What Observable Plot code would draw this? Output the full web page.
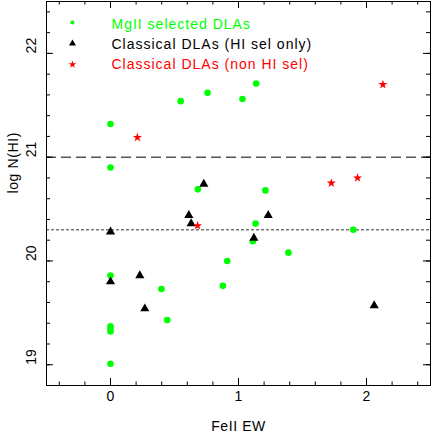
<!DOCTYPE html>
<html><head><meta charset="utf-8">
<script src="https://cdn.jsdelivr.net/npm/d3@7"></script>
<script src="https://cdn.jsdelivr.net/npm/@observablehq/plot@0.6"></script>
<style>body{margin:0;background:#fff} svg{display:block}</style>
</head><body><div id="chart"></div>
<script>
// MgII selected DLAs (green dots)
const mgiiX = [0, 0, 0.548, 0.758, 0.682, 1.031, 1.138, 1.21, 1.133, 1.112, 1.897, 1.39, 0.912, 0.878, 0, 0.398, 0.443, 0, 0, 0, 0];
const mgiiY = [21.32, 20.90, 21.54, 21.62, 20.69, 21.56, 21.71, 20.68, 20.36, 20.19, 20.30, 20.08, 20.00, 19.76, 19.86, 19.73, 19.43, 19.37, 19.345, 19.32, 19.01];
// Classical DLAs (HI sel only) (black triangles)
const hiX = [0.729, 0.612, 0.63, 1.232, 1.12, 0, 0, 0.229, 0.268, 2.06];
const hiY = [20.74, 20.44, 20.36, 20.44, 20.22, 20.28, 19.80, 19.86, 19.54, 19.57];
// Classical DLAs (non HI sel) (red stars)
const nonX = [0.21, 0.68, 1.725, 1.93, 2.128];
const nonY = [21.19, 20.34, 20.75, 20.80, 21.70];

const refLines = [21, 20.3];
const xTickLabels = [0, 1, 2];
const yTickLabels = [19, 20, 21, 22];
const xMinor = d3.range(-4, 25, 2).map(v => v / 10);
const yMinor = d3.range(188, 226, 2).map(v => v / 10);

const legendLabels = ["MgII selected DLAs", "Classical DLAs (HI sel only)", "Classical DLAs (non HI sel)"];
const legendColors = ["#00ff00", "#000000", "#ff0000"];
const legendSymbols = ["circle", "triangle", "star"];
const legendR = [2, 2.6, 2.4];

const xLabel = "FeII EW";
const yLabel = "log N(HI)";

const W = 432, H = 436, mL = 46, mR = 2, mT = 1, mB = 51;
const plotW = W - mL - mR, plotH = H - mT - mB;
const font = "'Liberation Sans', Arial, Helvetica, sans-serif";

const mgii = mgiiX.map((x, i) => ({x, y: mgiiY[i]}));
const hi = hiX.map((x, i) => ({x, y: hiY[i]}));
const non = nonX.map((x, i) => ({x, y: nonY[i]}));

const legendMarks = [];
legendLabels.forEach((lab, i) => {
  legendMarks.push(Plot.dot([lab], {frameAnchor: "top-left", dx: 26, dy: 21 + i * 21, symbol: legendSymbols[i], r: legendR[i], fill: legendColors[i]}));
  legendMarks.push(Plot.text([lab], {frameAnchor: "top-left", dx: 65, dy: 18 + i * 20, text: d => d, textAnchor: "start", fill: legendColors[i], fontSize: 14}));
});

const chart = Plot.plot({
  width: W, height: H,
  marginLeft: mL, marginRight: mR, marginTop: mT, marginBottom: mB,
  style: {fontFamily: font, fontSize: "14px", background: "white", color: "black"},
  x: {domain: [-0.5, 2.5], axis: null},
  y: {domain: [18.8, 22.5], axis: null},
  marks: [
    Plot.ruleY([refLines[0]], {stroke: "#000", strokeDasharray: "10,5"}),
    Plot.ruleY([refLines[1]], {stroke: "#333", strokeDasharray: "3,2"}),
    // inward ticks
    Plot.ruleX(xMinor, {x: d => d, insetTop: plotH - 3.5}),
    Plot.ruleX(xMinor, {x: d => d, insetBottom: plotH - 3.5}),
    Plot.ruleX(xTickLabels, {x: d => d, insetTop: plotH - 7}),
    Plot.ruleX(xTickLabels, {x: d => d, insetBottom: plotH - 7}),
    Plot.ruleY(yMinor, {y: d => d, insetRight: plotW - 4}),
    Plot.ruleY(yMinor, {y: d => d, insetLeft: plotW - 4}),
    Plot.ruleY(yTickLabels, {y: d => d, insetRight: plotW - 7}),
    Plot.ruleY(yTickLabels, {y: d => d, insetLeft: plotW - 7}),
    // tick labels
    Plot.text(xTickLabels, {x: d => d, text: d => String(d), frameAnchor: "bottom", dy: 15, fontSize: 14}),
    Plot.text(yTickLabels, {y: d => d, text: d => String(d), frameAnchor: "left", dx: -14.5, rotate: -90, fontSize: 14}),
    Plot.text([xLabel], {text: d => d, frameAnchor: "bottom", dy: 45, fontSize: 14}),
    Plot.text([yLabel], {text: d => d, frameAnchor: "left", dx: -33, rotate: -90, fontSize: 14}),
    // data
    Plot.dot(mgii, {x: "x", y: "y", r: 3.3, fill: "#00ff00"}),
    Plot.dot(hi, {x: "x", y: "y", symbol: "triangle", r: 3.4, fill: "#000"}),
    Plot.dot(non, {x: "x", y: "y", symbol: "star", r: 2.9, fill: "#ff0000"}),
    ...legendMarks,
    Plot.frame({stroke: "#000"})
  ]
});
d3.select(chart).selectAll("text")
  .filter(function () { return legendLabels.includes(this.textContent); })
  .style("letter-spacing", "1px");
d3.select(chart).selectAll("text")
  .filter(function () { return this.textContent === xLabel || this.textContent === yLabel; })
  .style("letter-spacing", "0.6px");
document.getElementById("chart").appendChild(chart);
</script>
</body></html>
